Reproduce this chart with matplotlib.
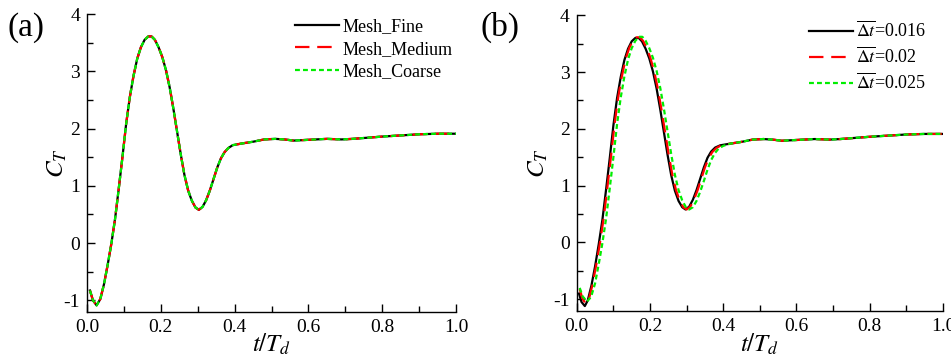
import matplotlib
matplotlib.use('Agg')
import matplotlib.pyplot as plt
from matplotlib.ticker import MultipleLocator

plt.rcParams['font.family'] = ['Liberation Serif', 'DejaVu Serif']
plt.rcParams['mathtext.fontset'] = 'stix'
plt.rcParams['axes.unicode_minus'] = False

# ---- data ----
# (a) mesh independence, all three meshes lie on top of each other
t_a = [0.008, 0.016, 0.026, 0.036, 0.046, 0.056, 0.066, 0.076, 0.086, 0.096,
       0.106, 0.116, 0.126, 0.136, 0.146, 0.156, 0.166, 0.175, 0.184, 0.194,
       0.204, 0.214, 0.224, 0.234, 0.244, 0.254, 0.264, 0.274, 0.284, 0.294,
       0.303, 0.313, 0.323, 0.333, 0.343, 0.353, 0.363, 0.373, 0.383, 0.395,
       0.42, 0.45, 0.48, 0.51, 0.535, 0.56, 0.59, 0.62, 0.65, 0.69,
       0.72, 0.76, 0.80, 0.85, 0.90, 0.95, 1.00]
ct_fine = [-0.83, -1.00, -1.09, -0.98, -0.72, -0.38, -0.01, 0.42, 0.95, 1.50,
           2.08, 2.55, 2.92, 3.22, 3.42, 3.55, 3.61, 3.61, 3.55, 3.42,
           3.25, 3.02, 2.72, 2.35, 1.95, 1.55, 1.19, 0.92, 0.74, 0.62,
           0.58, 0.63, 0.75, 0.92, 1.12, 1.32, 1.48, 1.59, 1.66, 1.71,
           1.74, 1.77, 1.81, 1.82, 1.81, 1.79, 1.80, 1.81, 1.82, 1.81,
           1.82, 1.84, 1.86, 1.88, 1.90, 1.91, 1.91]
ct_medium = [-0.83, -1.00, -1.09, -0.98, -0.72, -0.38, -0.01, 0.42, 0.95, 1.50,
             2.08, 2.55, 2.92, 3.22, 3.42, 3.55, 3.61, 3.61, 3.55, 3.42,
             3.25, 3.02, 2.72, 2.35, 1.95, 1.55, 1.19, 0.92, 0.74, 0.62,
             0.58, 0.63, 0.75, 0.92, 1.12, 1.32, 1.48, 1.59, 1.66, 1.71,
             1.74, 1.77, 1.81, 1.82, 1.81, 1.79, 1.80, 1.81, 1.82, 1.81,
             1.82, 1.84, 1.86, 1.88, 1.90, 1.91, 1.91]
ct_coarse = [-0.83, -1.00, -1.09, -0.98, -0.72, -0.38, -0.01, 0.42, 0.95, 1.50,
             2.08, 2.55, 2.92, 3.22, 3.42, 3.55, 3.61, 3.61, 3.55, 3.42,
             3.25, 3.02, 2.72, 2.35, 1.95, 1.55, 1.19, 0.92, 0.74, 0.62,
             0.58, 0.63, 0.75, 0.92, 1.12, 1.32, 1.48, 1.59, 1.66, 1.71,
             1.74, 1.77, 1.81, 1.82, 1.81, 1.79, 1.80, 1.81, 1.82, 1.81,
             1.82, 1.84, 1.86, 1.88, 1.90, 1.91, 1.91]

# (b) time step independence
t_016 = [0.006, 0.013, 0.022, 0.030, 0.040, 0.050, 0.060, 0.070, 0.080, 0.090,
         0.100, 0.110, 0.120, 0.130, 0.140, 0.150, 0.160, 0.169, 0.178, 0.188,
         0.198, 0.208, 0.218, 0.228, 0.238, 0.248, 0.258, 0.268, 0.278, 0.288,
         0.297, 0.307, 0.317, 0.327, 0.337, 0.347, 0.357, 0.367, 0.378, 0.392,
         0.42, 0.45, 0.48, 0.51, 0.535, 0.56, 0.59, 0.62, 0.65, 0.69,
         0.72, 0.76, 0.80, 0.85, 0.90, 0.95, 1.00]
ct_016 = [-0.90, -1.05, -1.12, -1.02, -0.76, -0.42, -0.03, 0.40, 0.93, 1.48,
          2.06, 2.54, 2.91, 3.21, 3.41, 3.54, 3.60, 3.60, 3.54, 3.41,
          3.24, 3.01, 2.71, 2.34, 1.94, 1.54, 1.18, 0.91, 0.73, 0.62,
          0.58, 0.63, 0.75, 0.92, 1.12, 1.32, 1.49, 1.60, 1.67, 1.71,
          1.74, 1.77, 1.81, 1.82, 1.81, 1.79, 1.80, 1.81, 1.82, 1.81,
          1.82, 1.84, 1.86, 1.88, 1.90, 1.91, 1.91]
t_02 = [0.008, 0.015, 0.024, 0.033, 0.043, 0.053, 0.063, 0.073, 0.083, 0.093,
        0.103, 0.113, 0.123, 0.133, 0.143, 0.153, 0.163, 0.172, 0.181, 0.191,
        0.201, 0.211, 0.221, 0.231, 0.241, 0.251, 0.261, 0.271, 0.281, 0.291,
        0.300, 0.310, 0.320, 0.330, 0.340, 0.350, 0.360, 0.370, 0.381, 0.394,
        0.42, 0.45, 0.48, 0.51, 0.535, 0.56, 0.59, 0.62, 0.65, 0.69,
        0.72, 0.76, 0.80, 0.85, 0.90, 0.95, 1.00]
ct_02 = [-0.82, -0.98, -1.08, -1.00, -0.74, -0.40, -0.02, 0.41, 0.94, 1.49,
         2.07, 2.55, 2.92, 3.22, 3.42, 3.55, 3.61, 3.61, 3.55, 3.42,
         3.25, 3.02, 2.72, 2.35, 1.95, 1.55, 1.19, 0.92, 0.74, 0.62,
         0.58, 0.63, 0.75, 0.92, 1.12, 1.32, 1.48, 1.59, 1.66, 1.71,
         1.74, 1.77, 1.81, 1.82, 1.81, 1.79, 1.80, 1.81, 1.82, 1.81,
         1.82, 1.84, 1.86, 1.88, 1.90, 1.91, 1.91]
t_025 = [0.008, 0.016, 0.028, 0.039, 0.050, 0.060, 0.070, 0.080, 0.090, 0.100,
         0.110, 0.120, 0.130, 0.140, 0.150, 0.160, 0.170, 0.179, 0.188, 0.198,
         0.208, 0.218, 0.228, 0.238, 0.248, 0.258, 0.268, 0.278, 0.288, 0.298,
         0.307, 0.317, 0.327, 0.337, 0.347, 0.357, 0.367, 0.377, 0.387, 0.400,
         0.42, 0.45, 0.48, 0.51, 0.535, 0.56, 0.59, 0.62, 0.65, 0.69,
         0.72, 0.76, 0.80, 0.85, 0.90, 0.95, 1.00]
ct_025 = [-0.80, -0.95, -1.04, -0.96, -0.72, -0.38, -0.01, 0.42, 0.95, 1.50,
          2.08, 2.55, 2.92, 3.22, 3.42, 3.55, 3.62, 3.62, 3.55, 3.42,
          3.25, 3.02, 2.72, 2.35, 1.95, 1.55, 1.19, 0.92, 0.74, 0.62,
          0.58, 0.62, 0.73, 0.89, 1.08, 1.28, 1.45, 1.57, 1.65, 1.70,
          1.74, 1.77, 1.81, 1.82, 1.81, 1.79, 1.80, 1.81, 1.82, 1.81,
          1.82, 1.84, 1.86, 1.88, 1.90, 1.91, 1.91]

labels_a = ['Mesh_Fine', 'Mesh_Medium', 'Mesh_Coarse']
labels_b = [r'$\overline{\Delta t}$=0.016', r'$\overline{\Delta t}$=0.02',
            r'$\overline{\Delta t}$=0.025']

styles = [dict(color='black', linestyle='-'),
          dict(color='#ff0000', linestyle=(0, (6.5, 3.5))),
          dict(color='#00ee00', linestyle=(0, (2.2, 1.4)))]

fig = plt.figure(figsize=(9.51, 3.62), dpi=100)
ax_a = fig.add_axes([0.0915, 0.139, 0.388, 0.822])
ax_b = fig.add_axes([0.6065, 0.142, 0.385, 0.816])

series_a = [(t_a, ct_fine), (t_a, ct_medium), (t_a, ct_coarse)]
series_b = [(t_016, ct_016), (t_02, ct_02), (t_025, ct_025)]

for ax, series, labels, legx, legy in [(ax_a, series_a, labels_a, 0.545, 1.01),
                                       (ax_b, series_b, labels_b, 0.615, 1.005)]:
    for (x, y), lab, st in zip(series, labels, styles):
        ax.plot(x, y, lw=1.6, label=lab, **st)

    ax.set_xlim(0.0, 1.0)
    ax.set_ylim(-1.2, 4.0)
    ax.xaxis.set_major_locator(MultipleLocator(0.2))
    ax.xaxis.set_minor_locator(MultipleLocator(0.1))
    ax.yaxis.set_major_locator(MultipleLocator(1))
    ax.yaxis.set_minor_locator(MultipleLocator(0.5))
    ax.xaxis.set_major_formatter(plt.FormatStrFormatter('%.1f'))
    ax.tick_params(which='both', direction='in', labelsize=14, pad=5)
    ax.tick_params(which='major', length=6, width=1)
    ax.tick_params(which='minor', length=4, width=1)
    for side in ['top', 'right']:
        ax.spines[side].set_visible(False)
    for side in ['left', 'bottom']:
        ax.spines[side].set_linewidth(1.0)

    ax.set_ylabel(r'$C_T$', fontsize=18)
    ax.set_xlabel(r'$t/T_d$', fontsize=18)

    ax.legend(loc='upper left', bbox_to_anchor=(legx, legy), frameon=False,
              fontsize=13, handlelength=2.4, handletextpad=0.2,
              labelspacing=0.3, borderaxespad=0.0)

ax_a.yaxis.set_label_coords(-0.05, 0.5)
ax_b.yaxis.set_label_coords(-0.072, 0.5)
ax_a.xaxis.set_label_coords(0.5, -0.068)
ax_b.xaxis.set_label_coords(0.5, -0.072)

fig.text(0.008, 0.9, '(a)', fontsize=24)
fig.text(0.505, 0.9, '(b)', fontsize=24)

fig.savefig('out.png', dpi=100)
